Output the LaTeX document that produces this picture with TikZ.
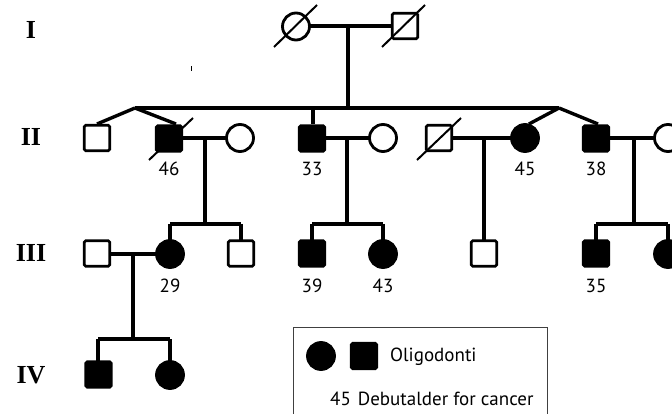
\documentclass[tikz,border=0pt]{standalone}
\usepackage{fontspec}
\setmainfont{PT Sans}
\newfontfamily\genfont{Liberation Serif}
\begin{document}
\begin{tikzpicture}[x=1pt,y=-1pt,
  base/.style={draw=black,line width=2.8pt,inner sep=0pt,outer sep=0pt},
  usq/.style={base,rectangle,rounded corners=1.5pt,minimum size=25.5pt,fill=white},
  asq/.style={base,rectangle,rounded corners=1.5pt,minimum size=25.5pt,fill=black},
  uci/.style={base,circle,minimum size=27pt,fill=white},
  aci/.style={base,circle,minimum size=27pt,fill=black},
  link/.style={line width=3.4pt},
  dead/.style={line width=2pt},
  age/.style={font=\fontsize{19}{21}\selectfont,inner sep=0pt},
  gen/.style={font=\genfont\bfseries\fontsize{26}{28}\selectfont,inner sep=0pt}]
\useasboundingbox (0,0) rectangle (672,414);
\clip (0,0) rectangle (672,414);

% generation labels
\node[gen] (gI) at (31,30) {I};
\node[gen] (gII) at (31,137) {II};
\node[gen] (gIII) at (31,253) {III};
\node[gen] (gIV) at (31,375) {IV};

% stray tick
\draw[line width=1pt] (191,66.5) -- (191,71.5);

% coordinates for junctions
\coordinate (mI) at (348,26);
\coordinate (sibL) at (135,108);
\coordinate (sibR) at (559,108);
\coordinate (s33) at (313,108);
\coordinate (m46) at (205,138);
\coordinate (m33) at (347,138);
\coordinate (mDec) at (484,138);
\coordinate (m38) at (634,138);
\coordinate (c46L) at (170,224);
\coordinate (c46R) at (241,224);
\coordinate (c46M) at (205,224);
\coordinate (c33L) at (312,224);
\coordinate (c33R) at (383,224);
\coordinate (c33M) at (347,224);
\coordinate (c38L) at (596,224);
\coordinate (c38R) at (668,224);
\coordinate (c38M) at (634,224);
\coordinate (m29) at (133,254);
\coordinate (c29M) at (133,339);
\coordinate (c29L) at (98,339);
\coordinate (c29R) at (170,339);

% lines (drawn first, symbols on top)
\draw[link] (296,26) -- (405,26);
\draw[link] (mI) -- (348,108);
\draw[link] (sibL) -- (sibR);
\draw[link] (s33) -- (313,124);
\draw[link] (sibL) -- (97,124);
\draw[link] (sibL) -- (176,124);
\draw[link] (sibR) -- (529,124);
\draw[link] (sibR) -- (598,124);
\draw[link] (169,138) -- (240,138);
\draw[link] (312,138) -- (383,138);
\draw[link] (439,138) -- (525,138);
\draw[link] (596,138) -- (668,138);
\draw[link] (m46) -- (c46M);
\draw[link] (m33) -- (c33M);
\draw[link] (mDec) -- (484,240);
\draw[link] (m38) -- (c38M);
\draw[link] (c46L) -- (c46R);
\draw[link] (c33L) -- (c33R);
\draw[link] (c38L) -- (c38R);
\draw[link] (c46L) -- (170,240);
\draw[link] (c46R) -- (241,240);
\draw[link] (c33L) -- (312,240);
\draw[link] (c33R) -- (383,240);
\draw[link] (c38L) -- (596,240);
\draw[link] (c38R) -- (668,240);
\draw[link] (97,254) -- (170,254);
\draw[link] (m29) -- (c29M);
\draw[link] (c29L) -- (c29R);
\draw[link] (c29L) -- (98,361);
\draw[link] (c29R) -- (170,361);

% generation I
\node[uci] (i1) at (296,26.5) {};
\node[usq] (i2) at (405,26) {};
\draw[dead] (274,47) -- (317,5);
\draw[dead] (382,47) -- (425,5);

% generation II
\node[usq] (ii1) at (97,138) {};
\node[asq] (ii2) at (169,138.5) {};
\draw[dead] (149,160) -- (193,118);
\node[uci] (ii3) at (240,138) {};
\node[asq] (ii4) at (312,138.5) {};
\node[uci] (ii5) at (383,138) {};
\node[usq] (ii6) at (439,138) {};
\draw[dead] (417,160) -- (461,118);
\node[aci] (ii7) at (525,138) {};
\node[asq] (ii8) at (596,138.5) {};
\node[uci] (ii9) at (668,138) {};
\node[age] (a46) at (169,169) {46};
\node[age] (a33) at (312,169) {33};
\node[age] (a45) at (525,169) {45};
\node[age] (a38) at (596,169) {38};

% generation III
\node[usq] (iii1) at (97,253.5) {};
\node[aci] (iii2) at (170,254) {};
\node[usq] (iii3) at (241,253.5) {};
\node[asq] (iii4) at (312,253.5) {};
\node[aci] (iii5) at (383,254) {};
\node[usq] (iii6) at (484,253.5) {};
\node[asq] (iii7) at (596,253.5) {};
\node[aci] (iii8) at (668,254) {};
\node[age] (a29) at (170,286) {29};
\node[age] (a39) at (312,286) {39};
\node[age] (a43) at (383,286) {43};
\node[age] (a35) at (596,286) {35};

% generation IV
\node[asq] (iv1) at (98.5,374.5) {};
\node[aci] (iv2) at (170,375) {};

% legend
\draw[line width=1pt,draw=black!75] (293,420) -- (293,327.5) -- (547.5,327.5) -- (547.5,420);
\node[aci] (lc) at (321,356) {};
\node[asq] (ls) at (364,356) {};
\node[age,anchor=base west] (lt1) at (390,361) {Oligodonti};
\node[age,anchor=base west] (lt2) at (330,405) {45\hspace{7pt}Debutalder for cancer};
\end{tikzpicture}
\end{document}
